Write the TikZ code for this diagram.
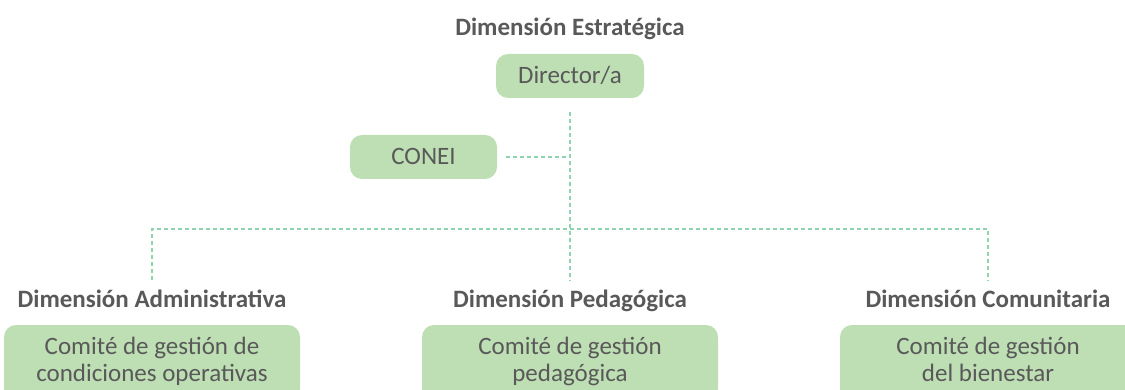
\documentclass[tikz,border=0pt]{standalone}
\usepackage{fontspec}
\setmainfont{Carlito}
\usetikzlibrary{calc}
\definecolor{boxfill}{RGB}{190,222,180}
\definecolor{txtgray}{RGB}{89,89,89}
\definecolor{dashgreen}{RGB}{143,212,176}
\tikzset{
  lbl/.style={inner sep=0pt, text=txtgray, font=\bfseries\fontsize{25}{27}\selectfont},
  box/.style={fill=boxfill, rounded corners=12pt, inner sep=0pt, text=txtgray, font=\fontsize{25}{27}\selectfont, align=center},
  sbox/.style={box, text height=17pt, text depth=1pt},
  cbox/.style={box, minimum width=296pt, minimum height=76pt},
  conn/.style={draw=dashgreen, line width=1.2pt, dash pattern=on 4pt off 3pt}
}
\begin{document}
\begin{tikzpicture}[x=1pt,y=-1pt]
\useasboundingbox (0,0) rectangle (1125,390);
\clip (0,0) rectangle (1125,390);
\node[lbl, anchor=base] (tit) at (570,36) {Dimensión Estratégica};
\node[sbox, minimum width=148pt, minimum height=44pt] (dir) at (570,76) {Director/a};
\node[sbox, minimum width=147pt, minimum height=44pt] (conei) at (423.5,157) {CONEI};
\node[lbl, anchor=base] (ladm) at (152,307) {Dimensión Administrativa};
\node[lbl, anchor=base] (lped) at (570,307) {Dimensión Pedagógica};
\node[lbl, anchor=base] (lcom) at (988,307) {Dimensión Comunitaria};
\node[cbox] (cadm) at (152,363) {\strut Comité de gestión de\\\strut condiciones operativas};
\node[cbox] (cped) at (570,363) {\strut Comité de gestión\\\strut pedagógica};
\node[cbox] (ccom) at (988,363) {\strut Comité de gestión\\\strut del bienestar};
\coordinate (bar) at (570,229);
\draw[conn] ([yshift=-14pt]dir.south) -- ([yshift=9pt]lped.north);
\draw[conn] ([xshift=9pt]conei.east) -- (conei.east -| dir.south);
\draw[conn] ([yshift=9pt]ladm.north) -- (ladm.north |- bar) -- (lcom.north |- bar) -- ([yshift=9pt]lcom.north);
\end{tikzpicture}
\end{document}
